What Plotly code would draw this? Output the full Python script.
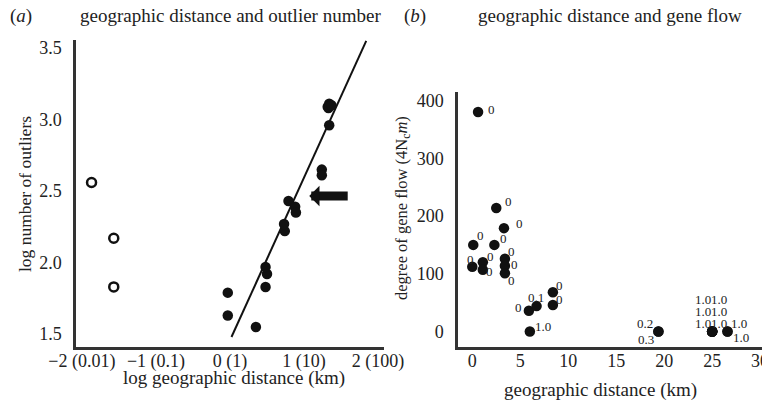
import plotly.graph_objects as go

# (a) log geographic distance vs log number of outliers
out_x = [-1.87, -1.57, -1.57]
out_y = [2.56, 2.17, 1.83]
pts_x = [-0.03, -0.03, 0.35, 0.48, 0.50, 0.48, 0.74, 0.73, 0.79, 0.88, 0.89,
         1.24, 1.24, 1.34, 1.33, 1.34, 1.32, 1.37]
pts_y = [1.79, 1.63, 1.55, 1.83, 1.92, 1.97, 2.22, 2.27, 2.43, 2.39, 2.35,
         2.65, 2.61, 2.96, 3.08, 3.11, 3.09, 3.10]
fit_x = [0.02, 1.84]
fit_y = [1.48, 3.55]
a_xticks = [-2, -1, 0, 1, 2]
a_xlabels = ["\u22122 (0.01)", "\u22121 (0.1)", "0 (1)", "1 (10)", "2 (100)"]
a_yticks = [1.5, 2.0, 2.5, 3.0, 3.5]

# (b) geographic distance vs gene flow (4Ncm)
gf_x = [0.6, 2.5, 3.3, 0.1, 2.3, 3.4, 3.4, 3.4, 1.1, 1.1, 0.0, 5.9, 6.7,
        8.4, 8.4, 6.0, 19.4, 19.4, 25.0, 25.0, 25.0, 25.0, 25.0, 25.0, 26.6, 26.6]
gf_y = [380, 214, 179, 150, 150, 126, 114, 101, 120, 107, 112, 36, 44,
        68, 46, 0, 0, 0, 0, 0, 0, 0, 0, 0, 0, 0]
gf_lab = ["0", "0", "0", "0", "0", "0", "0", "0", "0", "0", "0", "0", "0.1",
          "0", "0", "1.0", "0.2", "0.3", "1.0", "1.0", "1.0", "1.0", "1.0", "1.0", "1.0", "1.0"]
b_xticks = [0, 5, 10, 15, 20, 25, 30]
b_yticks = [0, 100, 200, 300, 400]

# label offsets in pixels (dx right, dy down)
lab_off = [(13, -3), (12, -6), (16, -5), (7, -9), (9, -6), (7, -7), (10, -1), (7, 7),
           (8, -6), (7, 2), (-2, -7), (-10, -3), (-1, -9), (7, -7), (7, -5), (13, -5),
           (-13, -8), (-12, 8), (-9, -32), (7, -32), (-9, -20), (7, -20), (-9, -8), (7, -8),
           (11, -8), (13, 6)]

FONT = "Liberation Serif, Times New Roman, serif"
INK = "#222222"
W, H, PAD = 762, 393, 8   # page body has an 8px margin


def px(x):
    return (x - PAD) / W


def py(y):
    return 1 - (y - PAD) / H


fig = go.Figure()
fig.add_trace(go.Scatter(x=fit_x, y=fit_y, mode="lines",
                         line=dict(color="#111111", width=2), xaxis="x", yaxis="y"))
fig.add_trace(go.Scatter(x=out_x, y=out_y, mode="markers", xaxis="x", yaxis="y",
                         marker=dict(size=9, color="white",
                                     line=dict(color="#111111", width=2.5))))
fig.add_trace(go.Scatter(x=pts_x, y=pts_y, mode="markers", xaxis="x", yaxis="y",
                         marker=dict(size=10.5, color="#111111")))
fig.add_trace(go.Scatter(x=gf_x, y=gf_y, mode="markers", xaxis="x2", yaxis="y2",
                         marker=dict(size=10.5, color="#111111")))

ann = []
for x, y, t, (dx, dy) in zip(gf_x, gf_y, gf_lab, lab_off):
    ann.append(dict(x=x, y=y, xref="x2", yref="y2", text=t, showarrow=False,
                    xshift=dx, yshift=-dy, font=dict(size=13, color=INK)))

# arrow pointing at the highlighted group in (a)
ann.append(dict(x=1.07, y=2.465, ax=1.61, ay=2.465, xref="x", yref="y",
                axref="x", ayref="y", text="", showarrow=True, arrowhead=1,
                arrowsize=0.38, arrowwidth=9, arrowcolor="#111111", standoff=0))


def label(x, y, text, angle=0, anchor="center", size=19):
    return dict(x=px(x), y=py(y), xref="paper", yref="paper", xanchor=anchor,
                yanchor="middle", text=text, showarrow=False, textangle=angle,
                font=dict(size=size, color=INK, family=FONT))


ann += [
    label(8, 16, "(<i>a</i>)", anchor="left"),
    label(230, 16, "geographic distance and outlier number"),
    label(402, 16, "(<i>b</i>)", anchor="left"),
    label(610, 16, "geographic distance and gene flow"),
    label(234, 378, "log geographic distance (km)"),
    label(25, 194, "log number of outliers", angle=-90, size=17.5),
    label(600, 390, "geographic distance (km)"),
    label(402, 208, "degree of gene flow (4N<sub>c</sub><i>m</i>)", angle=-90, size=16.5),
]

axis_common = dict(showline=True, linecolor="#333333", linewidth=2.5, showgrid=False,
                   zeroline=False, ticks="", automargin=False,
                   tickfont=dict(size=18, color=INK, family=FONT))

fig.update_layout(
    width=W, height=H, margin=dict(l=0, r=0, t=0, b=0),
    paper_bgcolor="white", plot_bgcolor="white", showlegend=False,
    font=dict(family=FONT, color=INK),
    annotations=ann,
    xaxis=dict(domain=[px(76), px(384)], range=[-2.08, 2.08], anchor="y",
               tickvals=a_xticks, ticktext=a_xlabels, ticklabelstandoff=-4, **axis_common),
    yaxis=dict(domain=[py(347), py(40)], range=[1.41, 3.556], anchor="x",
               tickvals=a_yticks, tickformat=".1f", ticklabelstandoff=8, **axis_common),
    xaxis2=dict(domain=[px(458), px(763)], range=[-1.49, 30.3], anchor="y2",
                tickvals=b_xticks, ticklabelstandoff=-4, **axis_common),
    yaxis2=dict(domain=[py(347), py(92)], range=[-26.8, 414.7], anchor="x2",
                tickvals=b_yticks, ticklabelstandoff=8, **axis_common),
)

fig.write_html("out.html")
